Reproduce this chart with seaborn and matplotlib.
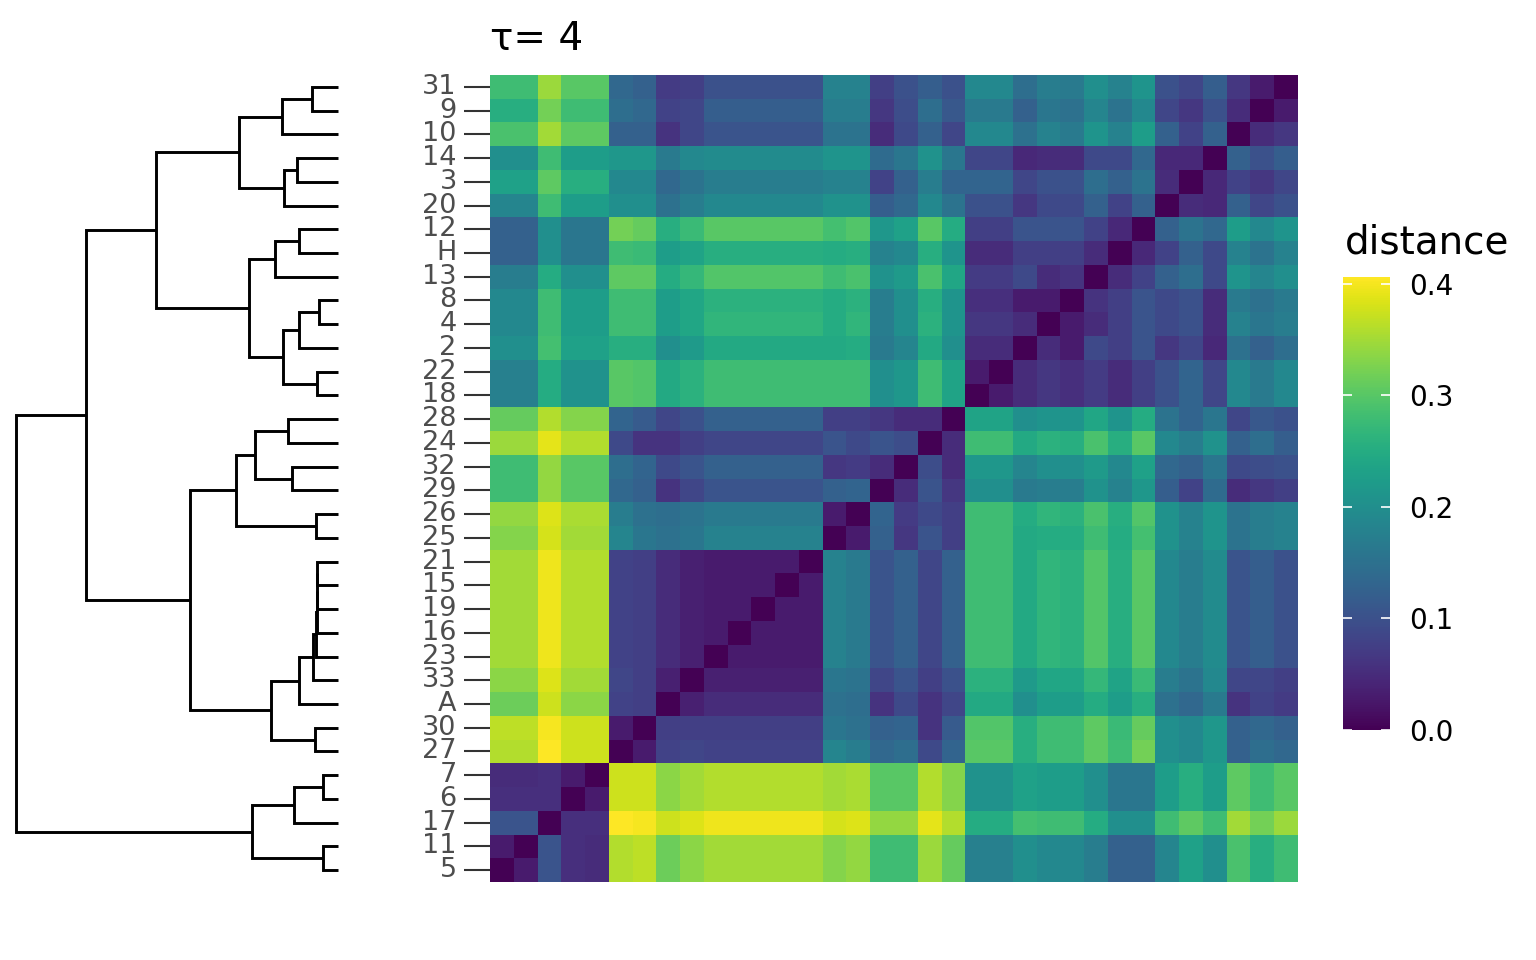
import numpy as np
import pandas as pd
import matplotlib
matplotlib.use("Agg")
import matplotlib.pyplot as plt
import seaborn as sns

# ---------------- data ----------------
row_labels = ["31", "9", "10", "14", "3", "20", "12", "H", "13", "8", "4", "2", "22", "18",
              "28", "24", "32", "29", "26", "25", "21", "15", "19", "16", "23", "33", "A",
              "30", "27", "7", "6", "17", "11", "5"]
col_labels = row_labels[::-1]

# distances of each row to the columns left of its diagonal cell (column order = col_labels)
d_31 = [0.28, 0.28, 0.345, 0.30, 0.30, 0.135, 0.125, 0.07, 0.075, 0.10, 0.10, 0.10, 0.10, 0.10,
        0.18, 0.18, 0.075, 0.10, 0.12, 0.10, 0.19, 0.19, 0.145, 0.17, 0.165, 0.20, 0.18, 0.21,
        0.10, 0.085, 0.12, 0.065, 0.03]
d_9 = [0.255, 0.255, 0.32, 0.28, 0.28, 0.145, 0.135, 0.08, 0.085, 0.12, 0.12, 0.12, 0.12, 0.12,
       0.17, 0.17, 0.065, 0.095, 0.145, 0.11, 0.165, 0.165, 0.125, 0.16, 0.15, 0.185, 0.155, 0.19,
       0.085, 0.065, 0.10, 0.05]
d_10 = [0.29, 0.29, 0.35, 0.305, 0.305, 0.125, 0.125, 0.06, 0.085, 0.105, 0.105, 0.105, 0.105, 0.105,
        0.155, 0.155, 0.05, 0.09, 0.125, 0.085, 0.19, 0.19, 0.15, 0.18, 0.165, 0.21, 0.18, 0.225,
        0.125, 0.08, 0.125]
d_14 = [0.20, 0.20, 0.28, 0.225, 0.225, 0.215, 0.215, 0.165, 0.19, 0.195, 0.195, 0.195, 0.195, 0.195,
        0.21, 0.21, 0.14, 0.16, 0.205, 0.16, 0.085, 0.085, 0.045, 0.05, 0.05, 0.09, 0.09, 0.135,
        0.045, 0.045]
d_3 = [0.23, 0.23, 0.305, 0.255, 0.255, 0.19, 0.19, 0.135, 0.155, 0.17, 0.17, 0.17, 0.17, 0.17,
       0.18, 0.18, 0.08, 0.125, 0.17, 0.13, 0.13, 0.13, 0.085, 0.10, 0.10, 0.145, 0.125, 0.155, 0.05]
d_20 = [0.185, 0.185, 0.28, 0.225, 0.225, 0.20, 0.20, 0.15, 0.17, 0.19, 0.19, 0.19, 0.19, 0.19,
        0.205, 0.205, 0.12, 0.135, 0.19, 0.155, 0.10, 0.10, 0.065, 0.09, 0.09, 0.125, 0.08, 0.125]
d_12 = [0.125, 0.125, 0.20, 0.16, 0.16, 0.32, 0.31, 0.255, 0.275, 0.30, 0.30, 0.30, 0.30, 0.30,
        0.285, 0.295, 0.215, 0.23, 0.30, 0.25, 0.075, 0.075, 0.105, 0.105, 0.105, 0.08, 0.045]
d_H = [0.125, 0.125, 0.20, 0.16, 0.16, 0.28, 0.275, 0.225, 0.235, 0.255, 0.255, 0.255, 0.255, 0.255,
       0.25, 0.255, 0.18, 0.19, 0.255, 0.21, 0.05, 0.05, 0.075, 0.075, 0.075, 0.05]
d_13 = [0.17, 0.17, 0.25, 0.20, 0.20, 0.305, 0.305, 0.25, 0.27, 0.295, 0.295, 0.295, 0.295, 0.295,
        0.28, 0.29, 0.205, 0.22, 0.29, 0.24, 0.07, 0.07, 0.09, 0.05, 0.06]
d_8 = [0.19, 0.19, 0.28, 0.225, 0.225, 0.28, 0.28, 0.225, 0.24, 0.26, 0.26, 0.26, 0.26, 0.26,
       0.25, 0.26, 0.17, 0.20, 0.255, 0.21, 0.055, 0.055, 0.03, 0.03]
d_4 = [0.19, 0.19, 0.28, 0.225, 0.225, 0.28, 0.28, 0.225, 0.24, 0.265, 0.265, 0.265, 0.265, 0.265,
       0.25, 0.265, 0.17, 0.20, 0.26, 0.21, 0.065, 0.065, 0.05]
d_2 = [0.20, 0.20, 0.285, 0.23, 0.23, 0.255, 0.255, 0.20, 0.22, 0.245, 0.245, 0.245, 0.245, 0.245,
       0.245, 0.25, 0.165, 0.185, 0.245, 0.20, 0.05, 0.05]
d_22 = [0.175, 0.175, 0.25, 0.205, 0.205, 0.30, 0.295, 0.245, 0.26, 0.28, 0.28, 0.28, 0.28, 0.28,
        0.28, 0.28, 0.20, 0.215, 0.28, 0.235, 0.03]
d_18 = [0.175, 0.175, 0.25, 0.205, 0.205, 0.30, 0.295, 0.245, 0.26, 0.28, 0.28, 0.28, 0.28, 0.28,
        0.28, 0.28, 0.20, 0.215, 0.28, 0.235]
d_28 = [0.31, 0.31, 0.36, 0.33, 0.33, 0.13, 0.115, 0.085, 0.10, 0.125, 0.125, 0.125, 0.125, 0.125,
        0.075, 0.075, 0.065, 0.05, 0.05]
d_24 = [0.345, 0.345, 0.39, 0.36, 0.36, 0.09, 0.06, 0.06, 0.075, 0.085, 0.085, 0.085, 0.085, 0.085,
        0.105, 0.09, 0.105, 0.095]
d_32 = [0.28, 0.28, 0.34, 0.30, 0.30, 0.145, 0.13, 0.09, 0.105, 0.125, 0.125, 0.125, 0.125, 0.125,
        0.065, 0.07, 0.05]
d_29 = [0.28, 0.28, 0.34, 0.30, 0.30, 0.135, 0.125, 0.06, 0.085, 0.105, 0.105, 0.105, 0.105, 0.105,
        0.125, 0.13]
d_26 = [0.34, 0.34, 0.385, 0.355, 0.355, 0.17, 0.15, 0.145, 0.155, 0.165, 0.165, 0.165, 0.165, 0.165,
        0.03]
d_25 = [0.33, 0.33, 0.38, 0.35, 0.35, 0.185, 0.16, 0.15, 0.16, 0.18, 0.18, 0.18, 0.18, 0.18]
d_21 = [0.35, 0.35, 0.395, 0.36, 0.36, 0.08, 0.075, 0.05, 0.035, 0.03, 0.03, 0.03, 0.03]
d_15 = [0.35, 0.35, 0.395, 0.36, 0.36, 0.08, 0.075, 0.05, 0.035, 0.03, 0.03, 0.03]
d_19 = [0.35, 0.35, 0.395, 0.36, 0.36, 0.08, 0.075, 0.05, 0.035, 0.03, 0.03]
d_16 = [0.35, 0.35, 0.395, 0.36, 0.36, 0.08, 0.075, 0.05, 0.035, 0.03]
d_23 = [0.35, 0.35, 0.395, 0.36, 0.36, 0.08, 0.075, 0.05, 0.035]
d_33 = [0.335, 0.335, 0.385, 0.35, 0.35, 0.085, 0.075, 0.035]
d_A = [0.315, 0.315, 0.375, 0.335, 0.335, 0.08, 0.075]
d_30 = [0.365, 0.365, 0.40, 0.375, 0.375, 0.03]
d_27 = [0.36, 0.36, 0.406, 0.375, 0.375]
d_7 = [0.05, 0.05, 0.055, 0.03]
d_6 = [0.055, 0.055, 0.055]
d_17 = [0.105, 0.105]
d_11 = [0.03]
d_5 = []

dist_rows = {"31": d_31, "9": d_9, "10": d_10, "14": d_14, "3": d_3, "20": d_20, "12": d_12,
             "H": d_H, "13": d_13, "8": d_8, "4": d_4, "2": d_2, "22": d_22, "18": d_18,
             "28": d_28, "24": d_24, "32": d_32, "29": d_29, "26": d_26, "25": d_25, "21": d_21,
             "15": d_15, "19": d_19, "16": d_16, "23": d_23, "33": d_33, "A": d_A, "30": d_30,
             "27": d_27, "7": d_7, "6": d_6, "17": d_17, "11": d_11, "5": d_5}

# dendrogram: leaves 0..33 in row order, merge k creates node 34+k
merge_left = [0, 34, 3, 36, 35, 6, 39, 9, 41, 12, 42, 40, 38, 14, 16, 47, 18, 49,
              20, 52, 53, 54, 55, 56, 27, 57, 51, 46, 29, 62, 32, 63, 61]
merge_right = [1, 2, 4, 5, 37, 7, 8, 10, 11, 13, 43, 44, 45, 15, 17, 48, 19, 50,
               21, 22, 23, 24, 25, 26, 28, 58, 59, 60, 30, 31, 33, 64, 65]
merge_height = [0.081, 0.174, 0.127, 0.168, 0.307, 0.121, 0.196, 0.059, 0.121, 0.065, 0.171,
                0.276, 0.565, 0.155, 0.143, 0.258, 0.068, 0.317, 0.064, 0.065, 0.066, 0.067,
                0.078, 0.121, 0.071, 0.208, 0.460, 0.783, 0.047, 0.137, 0.047, 0.267, 1.0]

cbar_ticks = [0.0, 0.1, 0.2, 0.3, 0.4]
cbar_ticklabels = ["0.0", "0.1", "0.2", "0.3", "0.4"]
title_text = "τ= 4"
legend_title = "distance"

# ---------------- build matrix ----------------
n = len(row_labels)
M = np.zeros((n, n))
for i, lab in enumerate(row_labels):
    v = dist_rows[lab]
    M[i, :len(v)] = v
for i in range(n):
    for c in range(n - i, n):
        M[i, c] = M[n - 1 - c, n - 1 - i]
df = pd.DataFrame(M, index=row_labels, columns=col_labels)

# ---------------- figure ----------------
sns.set_theme(style="white")
plt.rcParams["font.family"] = ["DejaVu Sans"]

W, H = 1536, 960
fig = plt.figure(figsize=(W / 100, H / 100), dpi=100)


def frac(x0, y0, x1, y1):
    return [x0 / W, 1 - y1 / H, (x1 - x0) / W, (y1 - y0) / H]


ax = fig.add_axes(frac(490, 75, 1298, 882))
cax = fig.add_axes(frac(1343, 277, 1390, 730))
dax = fig.add_axes(frac(16, 75, 338, 882))

sns.heatmap(df, ax=ax, cmap="viridis", vmin=0, vmax=0.406, cbar_ax=cax,
            xticklabels=False, yticklabels=True, linewidths=0)
ax.set_xlabel("")
ax.set_ylabel("")
ax.tick_params(axis="y", left=True, length=19, width=1.5, color="#333333", pad=5,
               labelsize=19.5, labelcolor="#4d4d4d", labelrotation=0)
ax.tick_params(axis="x", bottom=False)
for s in ax.spines.values():
    s.set_visible(False)

# colorbar styling
cbar = ax.collections[0].colorbar
cbar.outline.set_visible(False)
cbar.set_ticks(cbar_ticks)
cbar.set_ticklabels(cbar_ticklabels)
cax.tick_params(length=0, labelsize=20, pad=14, labelcolor="black")
tr = cax.get_yaxis_transform()
for t in cbar_ticks:
    cax.plot([0, 0.2], [t, t], color="white", lw=1.2, transform=tr, solid_capstyle="butt")
    cax.plot([0.8, 1.0], [t, t], color="white", lw=1.2, transform=tr, solid_capstyle="butt")

# dendrogram
pos = {i: (0.0, i + 0.5) for i in range(n)}
for k, (a, b, h) in enumerate(zip(merge_left, merge_right, merge_height)):
    xa, ya = pos[a]
    xb, yb = pos[b]
    dax.plot([xa, h, h, xb], [ya, ya, yb, yb], color="black", lw=2.1,
             solid_joinstyle="miter", solid_capstyle="butt", clip_on=False)
    pos[n + k] = (h, (ya + yb) / 2)
dax.set_xlim(1.0, 0.0)
dax.set_ylim(n, 0)
dax.axis("off")

fig.text(490 / W, 1 - 50 / H, title_text, fontsize=28, ha="left", va="baseline", color="black")
fig.text(1345 / W, 1 - 253 / H, legend_title, fontsize=28, ha="left", va="baseline", color="black")

fig.savefig("out.png", dpi=100, facecolor="white")
